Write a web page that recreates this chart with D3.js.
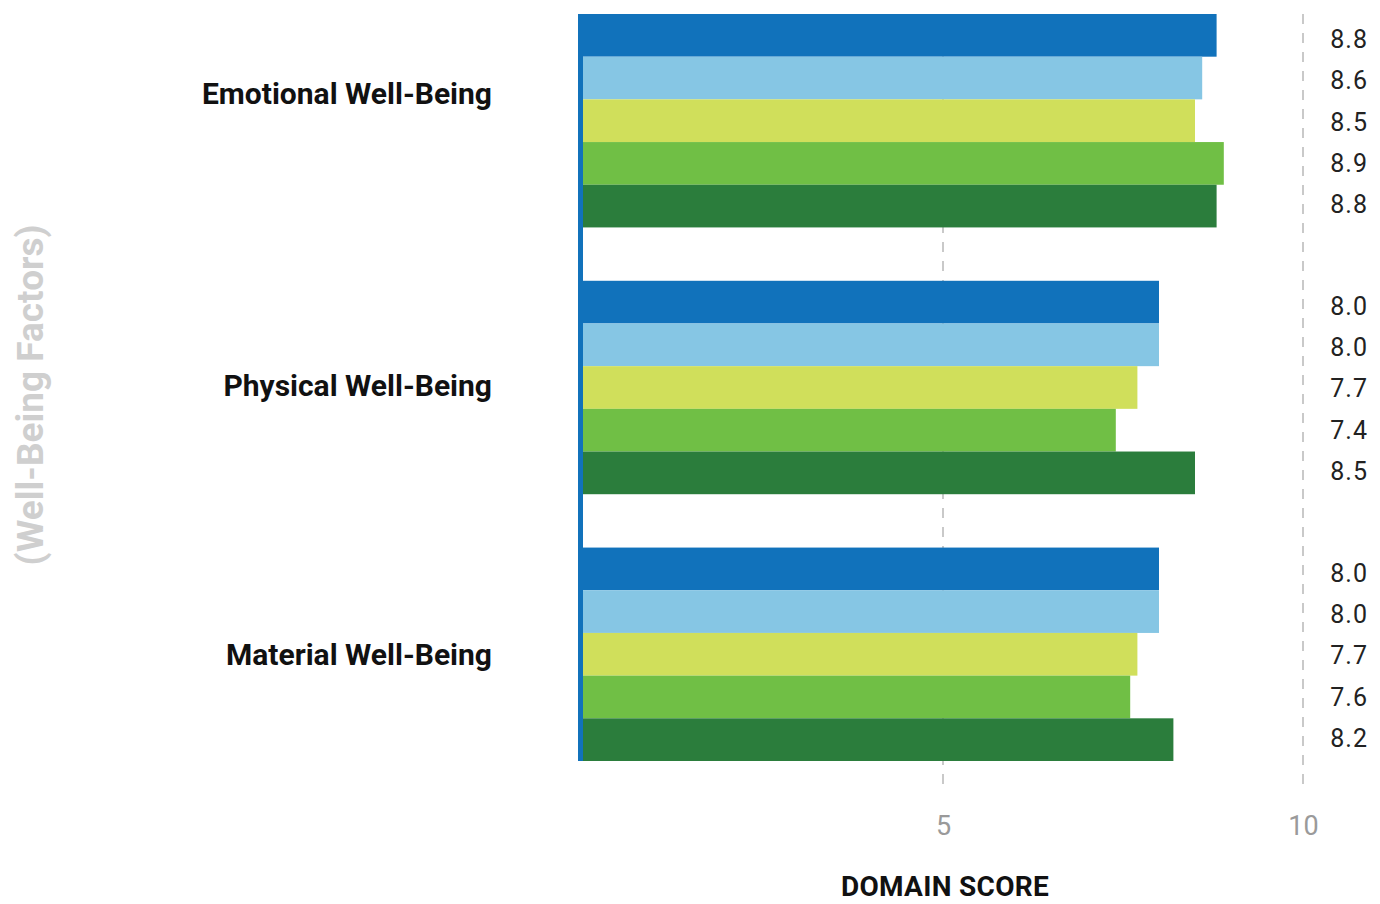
<!DOCTYPE html>
<html>
<head>
<meta charset="utf-8">
<script src="https://cdn.jsdelivr.net/npm/d3@7"></script>
<style>
  html, body { margin: 0; padding: 0; background: #fff; }
  svg { display: block; }
</style>
</head>
<body>
<svg id="chart" width="1380" height="904"></svg>
<script>
// Well-being domains, scored 0–10
const categories = ["Emotional Well-Being", "Physical Well-Being", "Material Well-Being"];
const seriesNames = ["Series 1", "Series 2", "Series 3", "Series 4", "Series 5"];
const series1 = [8.8, 8.0, 8.0];
const series2 = [8.6, 8.0, 8.0];
const series3 = [8.5, 7.7, 7.7];
const series4 = [8.9, 7.4, 7.6];
const series5 = [8.8, 8.5, 8.2];
const tickValues = [5, 10];
const xTitle = "DOMAIN SCORE";
const yTitle = "(Well-Being Factors)";

const seriesValues = [series1, series2, series3, series4, series5];
const colors = ["#1172bb", "#86c6e4", "#d0df5b", "#70bf45", "#2b7d3c"];

const svg = d3.select("#chart");
const font = "Roboto, 'DejaVu Sans', sans-serif";

const x = d3.scaleLinear().domain([0, 10]).range([583, 1303]);
const y = d3.scaleBand().domain(categories).range([14, 761]).paddingInner(0.2).paddingOuter(0);
const ySub = d3.scaleBand().domain(seriesNames).range([0, y.bandwidth()]);
const color = d3.scaleOrdinal().domain(seriesNames).range(colors);

// value labels sit in a slightly tighter column than the bars
const labelStep = 41.3;
const yLabel = d3.scalePoint().domain(seriesNames)
  .range([y.bandwidth() / 2 + 1 - 2 * labelStep, y.bandwidth() / 2 + 1 + 2 * labelStep]);

// dashed gridlines
const gridTop = 14, gridBottom = 790;
svg.append("g").selectAll("line").data(tickValues).join("line")
  .attr("x1", d => x(d)).attr("x2", d => x(d))
  .attr("y1", gridTop).attr("y2", gridBottom)
  .attr("stroke", "#c9c9c9").attr("stroke-width", 2)
  .attr("stroke-dasharray", "10,9");

// bars
const rows = categories.map((c, i) => ({
  cat: c,
  vals: seriesNames.map((s, j) => ({ s, v: seriesValues[j][i] }))
}));
const groups = svg.append("g").selectAll("g").data(rows).join("g")
  .attr("transform", d => `translate(0,${y(d.cat)})`);
groups.selectAll("rect").data(d => d.vals).join("rect")
  .attr("x", x(0))
  .attr("y", d => ySub(d.s))
  .attr("width", d => x(d.v) - x(0))
  .attr("height", ySub.bandwidth())
  .attr("fill", d => color(d.s));

// value labels on the right
groups.selectAll("text").data(d => d.vals).join("text")
  .attr("x", 1368)
  .attr("y", d => yLabel(d.s))
  .attr("dy", "0.36em")
  .attr("text-anchor", "end")
  .attr("font-family", font)
  .attr("font-size", 25)
  .attr("letter-spacing", 1)
  .attr("fill", "#222")
  .text(d => d.v.toFixed(1));

// vertical axis line
svg.append("line")
  .attr("x1", x(0) - 2.5).attr("x2", x(0) - 2.5)
  .attr("y1", y.range()[0]).attr("y2", y.range()[1])
  .attr("stroke", "#1172bb").attr("stroke-width", 5);

// category labels
const labelShift = [-28, -2, 0];
svg.append("g").selectAll("text").data(categories).join("text")
  .attr("x", 492)
  .attr("y", (d, i) => y(d) + y.bandwidth() / 2 + labelShift[i])
  .attr("dy", "0.36em")
  .attr("text-anchor", "end")
  .attr("font-family", font)
  .attr("font-weight", "bold")
  .attr("font-size", 30)
  .attr("fill", "#111")
  .text(d => d);

// x axis tick labels
const xAxis = d3.axisBottom(x).tickValues(tickValues).tickSize(0).tickPadding(0);
const gx = svg.append("g").attr("transform", "translate(0,816)").call(xAxis);
gx.select(".domain").remove();
gx.selectAll("text")
  .attr("font-family", font).attr("font-size", 27).attr("fill", "#9a9a9a");

// axis titles
svg.append("text")
  .attr("x", 945).attr("y", 896)
  .attr("text-anchor", "middle")
  .attr("font-family", font).attr("font-weight", "bold").attr("font-size", 28)
  .attr("letter-spacing", 0.3)
  .attr("fill", "#111")
  .text(xTitle);

svg.append("text")
  .attr("transform", "translate(43,395) rotate(-90)")
  .attr("text-anchor", "middle")
  .attr("font-family", font).attr("font-weight", "bold").attr("font-size", 37)
  .attr("fill", "#cfcfcf")
  .text(yTitle);
</script>
</body>
</html>
